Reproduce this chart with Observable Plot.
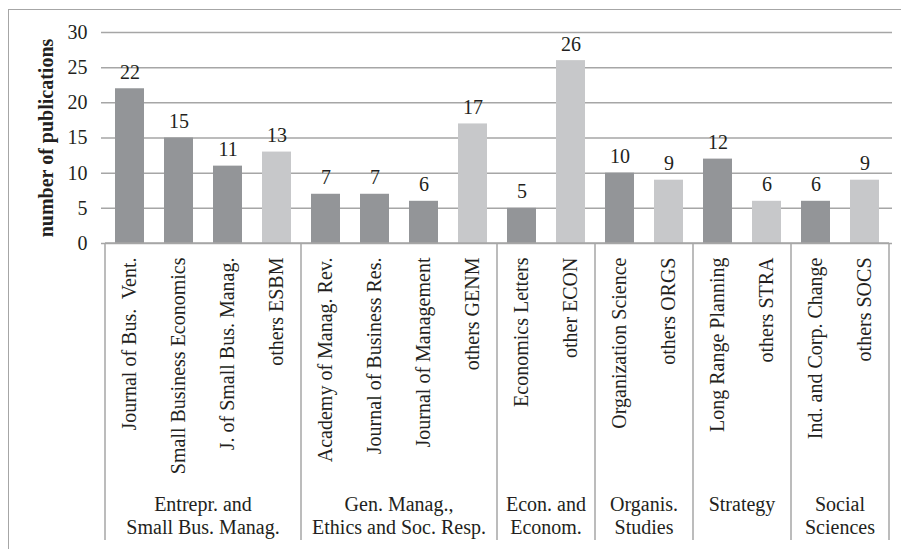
<!DOCTYPE html>
<html>
<head>
<meta charset="utf-8">
<script src="https://cdn.jsdelivr.net/npm/d3@7"></script>
<script src="https://cdn.jsdelivr.net/npm/@observablehq/plot@0.6"></script>
<style>
  html, body { margin: 0; padding: 0; background: #fff; overflow: hidden; }
  #frame { position: absolute; left: 8px; top: 9px; width: 1000px; height: 1000px; border: 1.5px solid #a6a6a6; box-sizing: border-box; }
  #chart { position: absolute; left: 0; top: 0; }
</style>
</head>
<body>
<div id="frame"></div>
<div id="chart"></div>
<script>
// ---- data ----
const journals = [
  "Journal of Bus.  Vent.", "Small Business Economics", "J. of Small Bus. Manag.", "others ESBM",
  "Academy of Manag. Rev.", "Journal of Business Res.", "Journal of Management", "others GENM",
  "Economics Letters", "other ECON",
  "Organization Science", "others ORGS",
  "Long Range Planning", "others STRA",
  "Ind. and Corp. Change", "others SOCS"
];
const publications = [22, 15, 11, 13, 7, 7, 6, 17, 5, 26, 10, 9, 12, 6, 6, 9];
const kinds = ["journal", "journal", "journal", "others",
               "journal", "journal", "journal", "others",
               "journal", "others",
               "journal", "others",
               "journal", "others",
               "journal", "others"];
const fieldLabels = [
  ["Entrepr. and", "Small Bus. Manag."],
  ["Gen. Manag.,", "Ethics and Soc. Resp."],
  ["Econ. and", "Econom."],
  ["Organis.", "Studies"],
  ["Strategy"],
  ["Social", "Sciences"]
];
const fieldSizes = [4, 4, 2, 2, 2, 2];
const yTicks = [0, 5, 10, 15, 20, 25, 30];
const yTitle = "number of publications";

const data = journals.map((name, i) => ({name, value: publications[i], kind: kinds[i]}));

const FONT = "'Liberation Serif', 'Times New Roman', serif";
const TEXT = "#231f20";
const LINE = "#a6a6a6";
const FS = 20;

const chart = Plot.plot({
  width: 901,
  height: 549,
  marginLeft: 101,
  marginRight: 9,
  marginTop: 32,
  marginBottom: 306,
  style: {fontFamily: FONT, color: TEXT, background: "transparent", overflow: "visible"},
  x: {domain: journals, paddingInner: 0.41, paddingOuter: 0.205, label: null},
  y: {domain: [0, 30], label: null},
  color: {domain: ["journal", "others"], range: ["#939598", "#c7c8ca"]},
  marks: [
    Plot.gridY(yTicks, {stroke: LINE, strokeOpacity: 1, strokeWidth: 1.5}),
    Plot.barY(data, {x: "name", y: "value", fill: "kind"}),
    Plot.text(data, {x: "name", y: "value", text: d => String(d.value), lineAnchor: "bottom", dy: -10, fontSize: FS, fill: TEXT}),
    Plot.axisY({ticks: yTicks, tickSize: 0, tickPadding: 14, fontSize: FS, label: null, fill: TEXT}),
    Plot.axisX({tickRotate: -90, tickSize: 0, tickPadding: 14, fontSize: FS, label: null, fill: TEXT}),
    Plot.text([yTitle], {text: d => d, frameAnchor: "left", textAnchor: "middle", rotate: -90, dx: -55, fontSize: FS, fontWeight: "bold", fill: TEXT})
  ]
});
document.getElementById("chart").appendChild(chart);

// ---- category box below the axis, built from the Plot scales ----
const sx = chart.scale("x");
const sy = chart.scale("y");
const step = sx.step, bw = sx.bandwidth;
const yBase = sy.apply(0);
const yBottom = 540;
const svg = d3.select(chart);
const g = svg.append("g").attr("font-family", FONT).attr("font-size", FS).attr("fill", TEXT);
let idx = 0;
const edges = [];
fieldSizes.forEach((n, k) => {
  const x0 = sx.apply(journals[idx]) + bw / 2 - step / 2;
  const x1 = x0 + n * step;
  if (k === 0) edges.push(x0);
  edges.push(x1);
  const t = g.append("text").attr("text-anchor", "middle");
  const lines = fieldLabels[k];
  lines.forEach((s, j) => {
    t.append("tspan").attr("x", (x0 + x1) / 2).attr("y", 511 + j * 23).text(s);
  });
  idx += n;
});
g.append("line").attr("x1", edges[0]).attr("x2", edges[edges.length - 1])
  .attr("y1", yBase).attr("y2", yBase).attr("stroke", LINE).attr("stroke-width", 1.5);
edges.forEach(x => {
  g.append("line").attr("x1", x).attr("x2", x).attr("y1", yBase).attr("y2", yBottom)
    .attr("stroke", LINE).attr("stroke-width", 1.5);
});
</script>
</body>
</html>
